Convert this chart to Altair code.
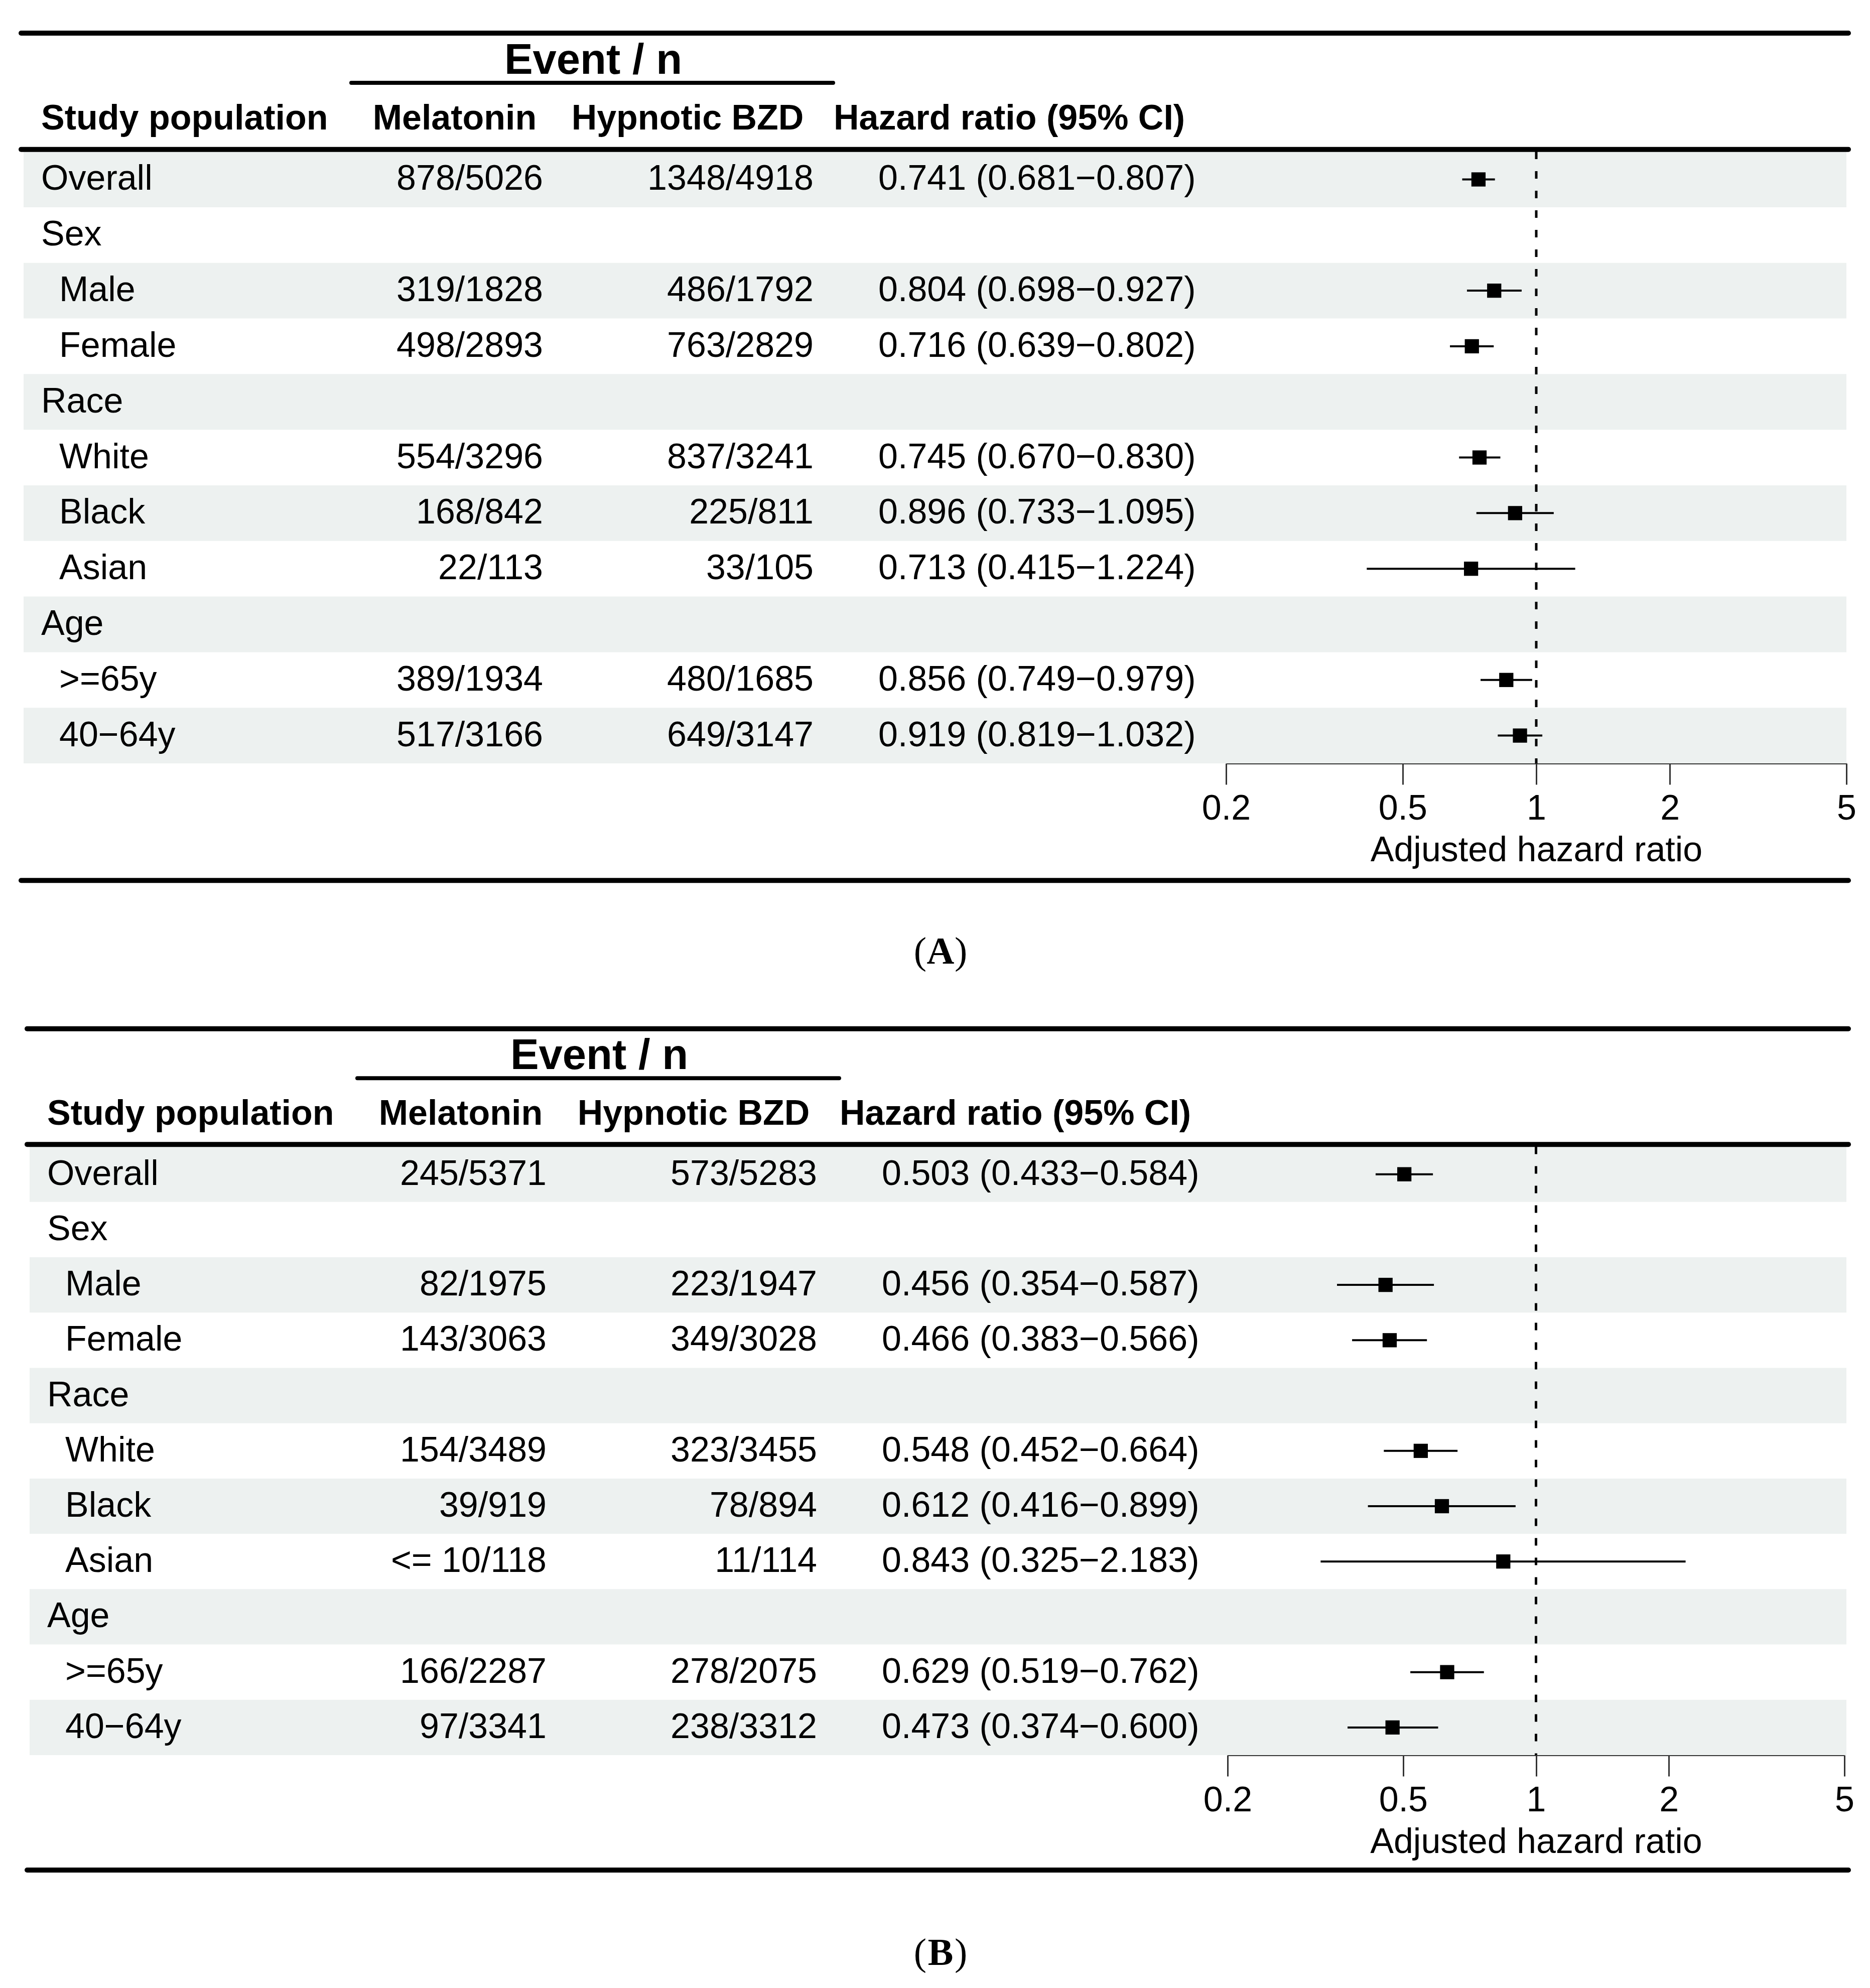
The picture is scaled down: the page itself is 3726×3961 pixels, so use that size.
import altair as alt
import pandas as pd

# ---------------- data ----------------
labels = ["Overall", "Sex", "Male", "Female", "Race", "White", "Black", "Asian",
          "Age", ">=65y", "40\u221264y"]
levels = [0, 0, 1, 1, 0, 1, 1, 1, 0, 1, 1]

a_mel = ["878/5026", "", "319/1828", "498/2893", "", "554/3296", "168/842", "22/113",
         "", "389/1934", "517/3166"]
a_bzd = ["1348/4918", "", "486/1792", "763/2829", "", "837/3241", "225/811", "33/105",
         "", "480/1685", "649/3147"]
a_hr = [0.741, None, 0.804, 0.716, None, 0.745, 0.896, 0.713, None, 0.856, 0.919]
a_lo = [0.681, None, 0.698, 0.639, None, 0.670, 0.733, 0.415, None, 0.749, 0.819]
a_hi = [0.807, None, 0.927, 0.802, None, 0.830, 1.095, 1.224, None, 0.979, 1.032]

b_mel = ["245/5371", "", "82/1975", "143/3063", "", "154/3489", "39/919", "<= 10/118",
         "", "166/2287", "97/3341"]
b_bzd = ["573/5283", "", "223/1947", "349/3028", "", "323/3455", "78/894", "11/114",
         "", "278/2075", "238/3312"]
b_hr = [0.503, None, 0.456, 0.466, None, 0.548, 0.612, 0.843, None, 0.629, 0.473]
b_lo = [0.433, None, 0.354, 0.383, None, 0.452, 0.416, 0.325, None, 0.519, 0.374]
b_hi = [0.584, None, 0.587, 0.566, None, 0.664, 0.899, 2.183, None, 0.762, 0.600]

headers = ["Study population", "Melatonin", "Hypnotic BZD", "Hazard ratio (95% CI)"]
span_header = "Event / n"
axis_ticks = [0.2, 0.5, 1, 2, 5]
axis_title = "Adjusted hazard ratio"
captions = ["A", "B"]

# ---------------- layout ----------------
W = 3710          # plot width in px (page minus 8px margins)
Y_TOP = -3.154    # row units at top of plot area
Y_BOT = 10.5      # row units at bottom of plot area (axis line)
FONT = "Liberation Sans"
SERIF = "Liberation Serif"
BAND = "#edf1f0"
FS = 70


def XS(field, **kw):
    return alt.X(field, type="quantitative",
                 scale=alt.Scale(domain=[0, W], nice=False, zero=False), axis=None, **kw)


def YS(field, **kw):
    return alt.Y(field, type="quantitative",
                 scale=alt.Scale(domain=[Y_TOP, Y_BOT], reverse=True, nice=False, zero=False),
                 axis=None, **kw)


def panel(mel, bzd, hr, lo, hi, tag, xo, xv, frange, height, bottom_y, cap_y):
    n = len(labels)
    rows = pd.DataFrame({
        "row": list(range(n)), "label": labels, "mel": mel, "bzd": bzd,
    })
    rows["lx"] = [(74 if lv == 0 else 110) + xo for lv in levels]
    rows["mx"] = 1069 + xv
    rows["bx"] = 1608 + xv
    rows["hx"] = 1737 + xv
    rows["ci"] = [
        "" if h is None else f"{h:.3f} ({l:.3f}\u2212{u:.3f})" for h, l, u in zip(hr, lo, hi)
    ]

    bands = pd.DataFrame({"y1": [i - 0.5 for i in range(0, n, 2)],
                          "y2": [i + 0.5 for i in range(0, n, 2)]})
    bands["x1"] = 39 + xo
    bands["x2"] = 3671

    rules = pd.DataFrame({
        "x1": [34 + xo, 692 + xo, 34 + xo, 34 + xo],
        "x2": [3675, 1652 + xo, 3675, 3675],
        "y": [-2.630, -1.737, -0.54, bottom_y],
        "w": [10, 8, 10, 10],
    })

    hdr_left = pd.DataFrame({"t": [headers[0], headers[3]], "x": [74 + xo, 1653 + xo],
                             "y": [-0.897, -0.897]})
    hdr_center = pd.DataFrame({"t": [headers[1], headers[2]], "x": [898 + xo, 1362 + xo],
                               "y": [-0.897, -0.897]})
    span = pd.DataFrame({"t": [span_header], "x": [1174 + xo], "y": [-1.899]})

    cap_mid = pd.DataFrame({"t": [tag], "x": [1866], "y": [cap_y]})
    cap_l = pd.DataFrame({"t": ["("], "x": [1866 - 28], "y": [cap_y]})
    cap_r = pd.DataFrame({"t": [")"], "x": [1866 + 28], "y": [cap_y]})

    band_layer = alt.Chart(bands).mark_rect(color=BAND).encode(
        x=XS("x1"), x2="x2", y=YS("y1"), y2="y2")
    rule_layer = alt.Chart(rules).mark_rule(color="black", strokeCap="round").encode(
        x=XS("x1"), x2="x2", y=YS("y"),
        strokeWidth=alt.StrokeWidth("w:Q", scale=None))

    def txt(df, xf, tf, align, **kw):
        base = dict(font=FONT, fontSize=FS, color="black", baseline="alphabetic")
        base.update(kw)
        return alt.Chart(df).mark_text(align=align, **base).encode(
            x=XS(xf), y=YS("y" if "y" in df.columns else "row"), text=alt.Text(tf, type="nominal"))

    lab = txt(rows, "lx", "label", "left", dy=21)
    melt = txt(rows, "mx", "mel", "right", dy=21)
    bzdt = txt(rows, "bx", "bzd", "right", dy=21)
    cit = txt(rows, "hx", "ci", "left", dy=21)
    h1 = txt(hdr_left, "x", "t", "left", fontWeight="bold")
    h2 = txt(hdr_center, "x", "t", "center", fontWeight="bold")
    sp = txt(span, "x", "t", "center", fontWeight="bold", fontSize=85)
    c1 = txt(cap_mid, "x", "t", "center", font=SERIF, fontSize=76, fontWeight="bold")
    c2 = txt(cap_l, "x", "t", "right", font=SERIF, fontSize=76)
    c3 = txt(cap_r, "x", "t", "left", font=SERIF, fontSize=76)

    table = alt.layer(band_layer, lab, melt, bzdt, cit, h1, h2, sp, rule_layer, c1, c2, c3)

    fdf = pd.DataFrame({"row": list(range(n)), "hr": hr, "lo": lo, "hi": hi}).dropna()
    ref = pd.DataFrame({"v": [1.0], "y1": [-0.5], "y2": [10.5]})

    fscale = alt.Scale(type="log", domain=[0.2, 5], range=frange, nice=False)
    faxis = alt.Axis(values=axis_ticks, format="~g", title=axis_title, grid=False,
                     tickSize=42, tickWidth=3, tickColor="#333333",
                     domainColor="#333333", domainWidth=3,
                     labelFont=FONT, labelFontSize=FS, labelColor="black",
                     labelPadding=14, labelFlush=False, labelOverlap=False,
                     titleFont=FONT, titleFontSize=FS, titleFontWeight="normal",
                     titleColor="black", titlePadding=14)

    def FX(field):
        return alt.X(field, type="quantitative", scale=fscale, axis=faxis)

    dash = alt.Chart(ref).mark_rule(color="black", strokeWidth=5, strokeDash=[15, 24]).encode(
        x=FX("v"), y=YS("y1"), y2="y2")
    ci = alt.Chart(fdf).mark_rule(color="black", strokeWidth=4).encode(
        x=FX("lo"), x2="hi", y=YS("row"))
    sq = alt.Chart(fdf).mark_square(color="black", opacity=1, size=800).encode(
        x=FX("hr"), y=YS("row"))
    forest = alt.layer(dash, ci, sq)

    return alt.layer(table, forest).resolve_scale(x="independent").properties(
        width=W, height=height)


pa = panel(a_mel, a_bzd, a_hr, a_lo, a_hi, captions[0], 0, 5, [2435, 3671],
           1513, 12.605, 14.103)
pb = panel(b_mel, b_bzd, b_hr, b_lo, b_hi, captions[1], 12, 12, [2438, 3667],
           1505, 12.578, 14.293)

chart = alt.vconcat(pa, pb, spacing=471, bounds="flush", padding=0).configure_view(stroke=None)

chart.save("out.html", embed_options={"renderer": "svg", "actions": False})
